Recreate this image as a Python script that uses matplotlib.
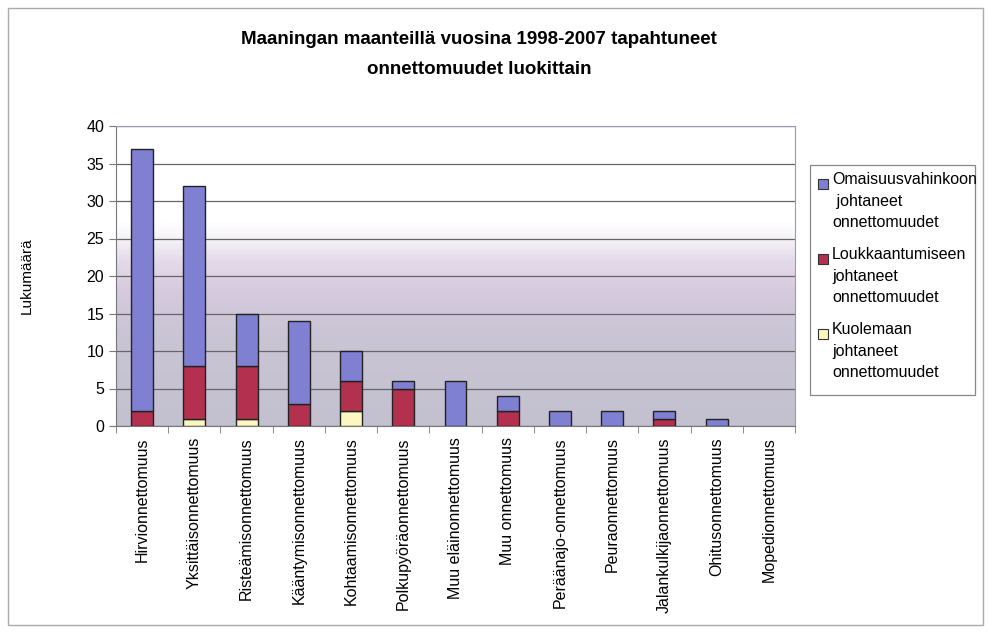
import numpy as np
import matplotlib
matplotlib.use("Agg")
from matplotlib import pyplot as plt
from matplotlib.colors import LinearSegmentedColormap

categories = ["Hirvionnettomuus", "Yksittäisonnettomuus", "Risteämisonnettomuus",
              "Kääntymisonnettomuus", "Kohtaamisonnettomuus", "Polkupyöräonnettomuus",
              "Muu eläinonnettomuus", "Muu onnettomuus", "Peräänajo-onnettomuus",
              "Peuraonnettomuus", "Jalankulkijaonnettomuus", "Ohitusonnettomuus",
              "Mopedionnettomuus"]
kuolema = [0, 1, 1, 0, 2, 0, 0, 0, 0, 0, 0, 0, 0]
loukkaantuminen = [2, 7, 7, 3, 4, 5, 0, 2, 0, 0, 1, 0, 0]
omaisuus = [35, 24, 7, 11, 4, 1, 6, 2, 2, 2, 1, 1, 0]

labels = ["Omaisuusvahinkoon\n johtaneet\nonnettomuudet",
          "Loukkaantumiseen\njohtaneet\nonnettomuudet",
          "Kuolemaan\njohtaneet\nonnettomuudet"]
colors = ["#7f80d2", "#b3304f", "#fbf8bf"]

plt.rcParams["font.family"] = ["Liberation Sans", "DejaVu Sans"]

fig = plt.figure(figsize=(9.88, 6.33), dpi=100)
ax = fig.add_axes([116/988, 1 - 426/633, (795-116)/988, (426-126)/633])

# gradient background of the plot area
cmap = LinearSegmentedColormap.from_list("bg", [
    (0.0, "#c3c0cf"), (0.30, "#c9c5d5"), (0.45, "#d6cade"),
    (0.55, "#e4dbea"), (0.63, "#f6f4f8"), (0.68, "#ffffff"), (1.0, "#ffffff")])
grad = np.linspace(0, 1, 256).reshape(-1, 1)
ax.imshow(grad, cmap=cmap, aspect="auto", origin="lower",
          extent=[-0.5, len(categories) - 0.5, 0, 40], zorder=0)

x = np.arange(len(categories))
k = np.array(kuolema)
l = np.array(loukkaantuminen)
o = np.array(omaisuus)
w = 0.42
series = [(k, 0 * k, colors[2]), (l, k, colors[1]), (o, k + l, colors[0])]
for vals, bottom, c in series:
    lw = np.where(vals > 0, 1.0, 0.0)
    ax.bar(x, vals, w, bottom=bottom, color=c, edgecolor="#222222",
           linewidth=lw, zorder=3)

ax.set_xlim(-0.5, len(categories) - 0.5)
ax.set_ylim(0, 40)
ax.set_yticks(range(0, 41, 5))
ax.yaxis.grid(True, color="#666666", linewidth=0.9, zorder=1)
ax.set_xticks(x)
ax.set_xticklabels(categories, rotation=90, fontsize=11.5)
ax.set_xticks(np.arange(-0.5, len(categories), 1), minor=True)
ax.tick_params(axis="x", which="major", length=0, pad=8)
ax.tick_params(axis="x", which="minor", length=5, color="#777777")
ax.tick_params(axis="y", labelsize=11.5, length=5, color="#777777")
for s in ["top", "right"]:
    ax.spines[s].set_color("#9a9ab8")
for s in ["left", "bottom"]:
    ax.spines[s].set_color("#777777")
ax.set_ylabel("Lukumäärä", fontsize=11, labelpad=38)

fig.text(0.485, 1 - 40/633, "Maaningan maanteillä vuosina 1998-2007 tapahtuneet",
         ha="center", va="center", fontsize=13.5, fontweight="bold")
fig.text(0.485, 1 - 70/633, "onnettomuudet luokittain",
         ha="center", va="center", fontsize=13.5, fontweight="bold")

# legend box, drawn by hand so that the marker sits on the first text line
fig.patches.append(plt.Rectangle((810/988, 1 - 395/633), 165/988, 230/633,
                                 transform=fig.transFigure, facecolor="white",
                                 edgecolor="#888888", linewidth=0.9))
for i, (lab, c) in enumerate(zip(labels, colors)):
    ytop = 172 + i * 75
    fig.patches.append(plt.Rectangle((818/988, 1 - (ytop + 17)/633), 10/988, 10/633,
                                     transform=fig.transFigure, facecolor=c,
                                     edgecolor="#333333", linewidth=0.8))
    fig.text(832/988, 1 - ytop/633, lab, ha="left", va="top",
             fontsize=11.5, linespacing=1.55)

# outer chart frame
fig.patches.append(plt.Rectangle((8/988, 1 - 625/633), 975/988, 617/633,
                                 transform=fig.transFigure, fill=False,
                                 edgecolor="#aaaaaa", linewidth=1))

fig.savefig("out.png", dpi=100)
